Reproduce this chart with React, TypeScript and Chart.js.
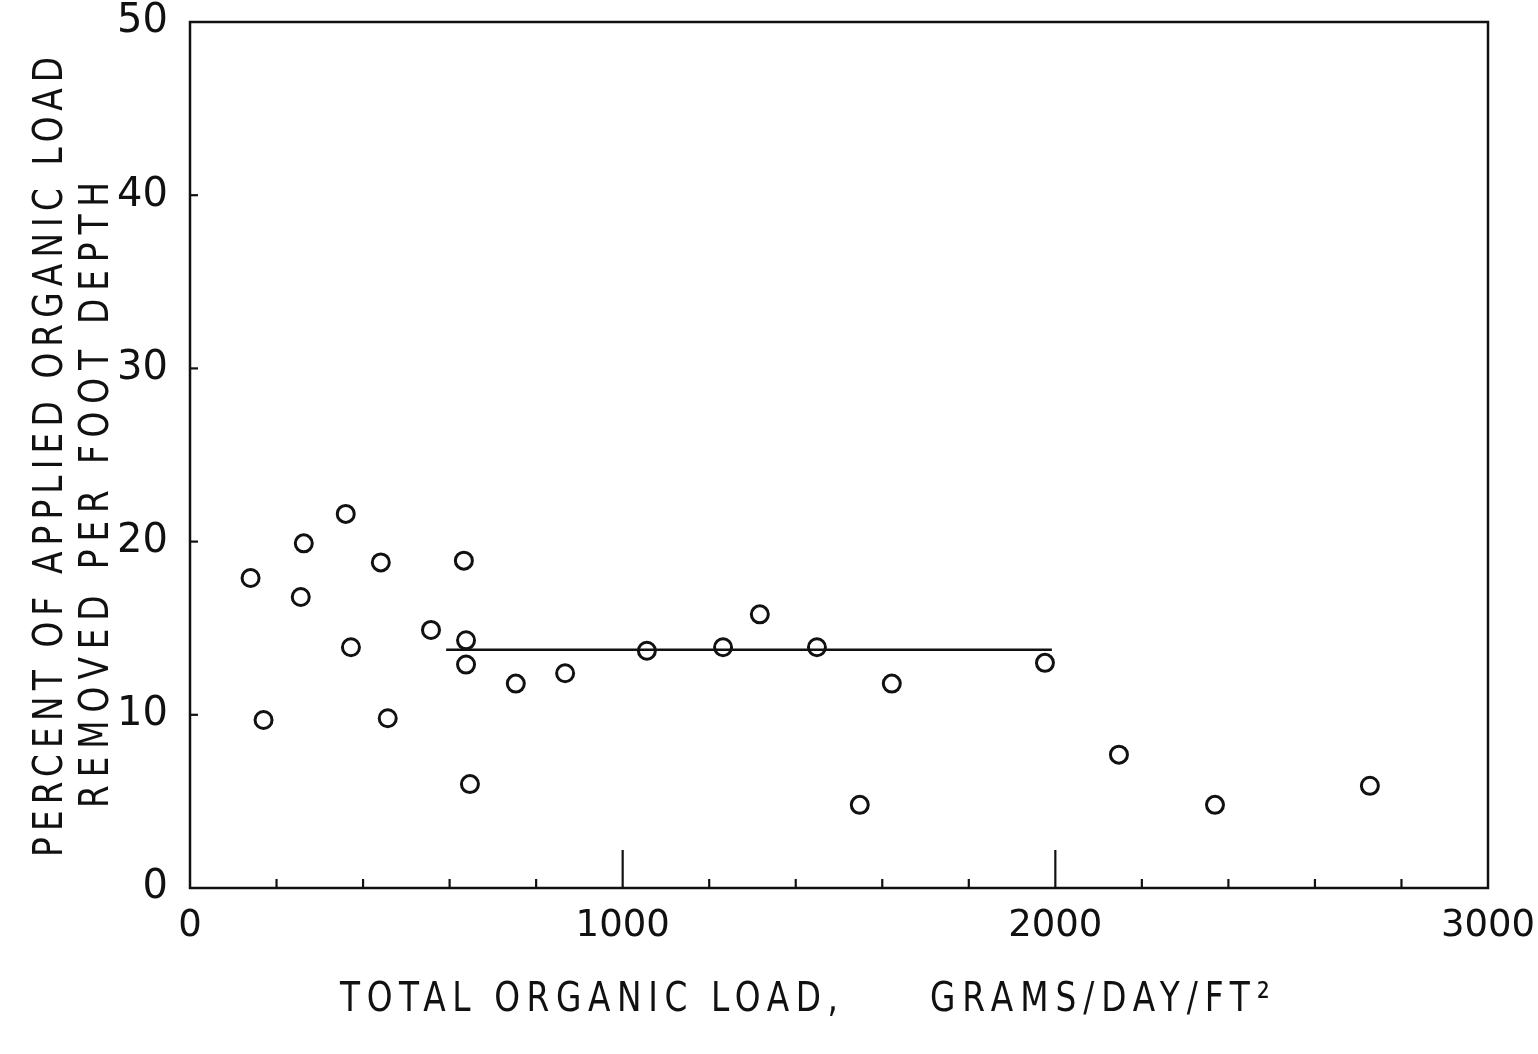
import React, { useEffect, useRef } from "react";
import { Chart, registerables } from "chart.js";

Chart.register(...registerables);

// Data
const loadX = [140, 170, 256, 263, 360, 372, 441, 457, 557, 633, 638, 638, 647, 753, 867, 1056, 1232, 1317, 1449, 1548, 1622, 1976, 2147, 2369, 2727];
const removedY = [17.9, 9.7, 16.8, 19.9, 21.6, 13.9, 18.8, 9.8, 14.9, 18.9, 14.3, 12.9, 6.0, 11.8, 12.4, 13.7, 13.9, 15.8, 13.9, 4.8, 11.8, 13.0, 7.7, 4.8, 5.9];
const meanLineX = [592, 1992];
const meanLineY = [13.75, 13.75];
const xTickLabels = [0, 1000, 2000, 3000];
const yTickLabels = [0, 10, 20, 30, 40, 50];
const xTitleParts = ["TOTAL ORGANIC LOAD,", "GRAMS/DAY/FT²"];
const yTitleLines = ["PERCENT OF APPLIED ORGANIC LOAD", "REMOVED PER FOOT DEPTH"];

const INK = "#111";
const FONT = "'DejaVu Sans', sans-serif";

function drawFitted(ctx: CanvasRenderingContext2D, text: string, x0: number, x1: number, size: number, sx: number) {
  ctx.save();
  ctx.scale(sx, 1);
  ctx.font = `${size}px ${FONT}`;
  (ctx as any).letterSpacing = "0px";
  const w = ctx.measureText(text).width;
  const n = text.length;
  const target = (x1 - x0) / sx;
  const sp = n > 1 ? (target - w) / (n - 1) : 0;
  (ctx as any).letterSpacing = `${sp}px`;
  ctx.textAlign = "left";
  ctx.textBaseline = "middle";
  ctx.fillText(text, x0 / sx, 0);
  (ctx as any).letterSpacing = "0px";
  ctx.restore();
}

const framePlugin = {
  id: "frameAndTitles",
  afterDraw(chart: any) {
    const { ctx, chartArea } = chart;
    const xs = chart.scales.x;
    const ys = chart.scales.y;
    ctx.save();
    ctx.strokeStyle = INK;
    ctx.lineWidth = 2.5;
    ctx.strokeRect(chartArea.left, chartArea.top, chartArea.right - chartArea.left, chartArea.bottom - chartArea.top);
    // inward ticks on x axis
    ctx.lineWidth = 2.2;
    xs.ticks.forEach((t: any) => {
      const v = t.value;
      if (v <= 0 || v >= 3000) return;
      const px = xs.getPixelForValue(v);
      const len = v % 1000 === 0 ? 38 : 9;
      ctx.beginPath();
      ctx.moveTo(px, chartArea.bottom);
      ctx.lineTo(px, chartArea.bottom - len);
      ctx.stroke();
    });
    // inward ticks on y axis
    ys.ticks.forEach((t: any) => {
      const v = t.value;
      if (v <= 0 || v >= 50) return;
      const py = ys.getPixelForValue(v);
      ctx.beginPath();
      ctx.moveTo(chartArea.left, py);
      ctx.lineTo(chartArea.left + 8, py);
      ctx.stroke();
    });
    // titles
    ctx.fillStyle = INK;
    ctx.save();
    ctx.translate(0, 1000);
    drawFitted(ctx, xTitleParts[0], 340, 838, 41, 0.8);
    drawFitted(ctx, xTitleParts[1], 930, 1270, 41, 0.8);
    ctx.restore();
    ctx.save();
    ctx.translate(51, 0);
    ctx.rotate(-Math.PI / 2);
    drawFitted(ctx, yTitleLines[0], -857, -57, 41, 0.8);
    ctx.restore();
    ctx.save();
    ctx.translate(97, 0);
    ctx.rotate(-Math.PI / 2);
    drawFitted(ctx, yTitleLines[1], -808, -182, 41, 0.8);
    ctx.restore();
    ctx.restore();
  },
};

export default function App() {
  const ref = useRef<HTMLCanvasElement | null>(null);
  useEffect(() => {
    if (!ref.current) return;
    const points = loadX.map((x, i) => ({ x, y: removedY[i] }));
    const line = meanLineX.map((x, i) => ({ x, y: meanLineY[i] }));
    const chart = new Chart(ref.current, {
      type: "scatter",
      data: {
        datasets: [
          {
            type: "line",
            data: line,
            borderColor: INK,
            borderWidth: 2.5,
            pointRadius: 0,
            fill: false,
          } as any,
          {
            data: points,
            pointStyle: "circle",
            pointRadius: 8.5,
            pointBorderWidth: 3,
            borderColor: INK,
            backgroundColor: "rgba(255,255,255,0)",
          },
        ],
      },
      options: {
        animation: false,
        responsive: false,
        maintainAspectRatio: false,
        layout: { padding: { top: 22, right: 50, left: 0, bottom: 0 } },
        plugins: { legend: { display: false }, tooltip: { enabled: false } },
        scales: {
          x: {
            type: "linear",
            min: 0,
            max: 3000,
            grid: { display: false },
            border: { display: false },
            ticks: {
              stepSize: 200,
              autoSkip: false,
              maxRotation: 0,
              padding: 8,
              color: INK,
              font: { family: FONT, size: 37 },
              callback: (v: any) => (xTickLabels.includes(Number(v)) ? String(v) : ""),
            },
            afterFit: (s: any) => {
              s.height = 1054 - 888;
              s.paddingLeft = 0;
              s.paddingRight = 0;
            },
          },
          y: {
            type: "linear",
            min: 0,
            max: 50,
            grid: { display: false },
            border: { display: false },
            ticks: {
              stepSize: 10,
              padding: 14,
              color: INK,
              font: { family: FONT, size: 40 },
              callback: (v: any) => (yTickLabels.includes(Number(v)) ? String(v) : ""),
            },
            afterFit: (s: any) => {
              s.width = 190;
              s.paddingTop = 0;
              s.paddingBottom = 0;
            },
          },
        },
      },
      plugins: [framePlugin],
    });
    return () => chart.destroy();
  }, []);
  return (
    <div style={{ position: "fixed", left: 0, top: 0, width: 1538, height: 1054, background: "#fff" }}>
      <canvas ref={ref} width={1538} height={1054} style={{ display: "block" }} />
    </div>
  );
}
